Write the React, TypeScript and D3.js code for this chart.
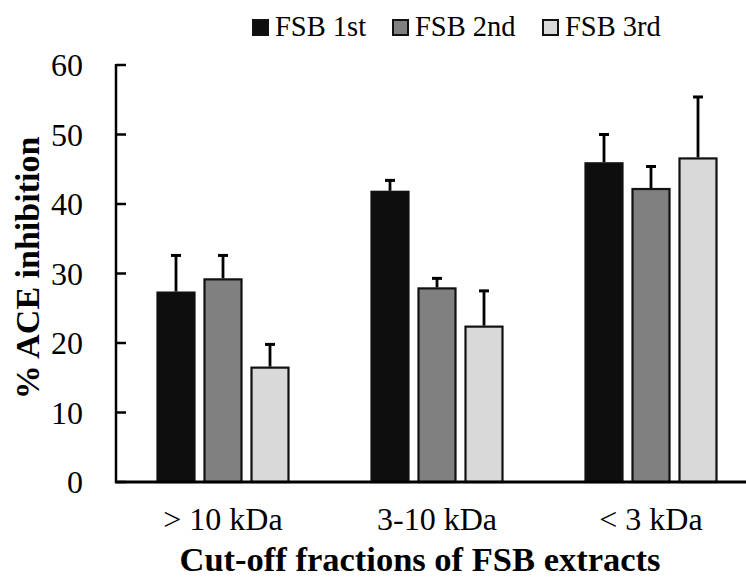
import React from "react";
import * as d3 from "d3";

// Cut-off fractions (x categories)
const categories = ["> 10 kDa", "3-10 kDa", "< 3 kDa"];
// Extract batches (series)
const seriesNames = ["FSB 1st", "FSB 2nd", "FSB 3rd"];
// Mean % ACE inhibition per series, per category
const fsb1st = [27.4, 41.9, 46.0];
const fsb2nd = [29.3, 28.0, 42.3];
const fsb3rd = [16.6, 22.5, 46.7];
// Standard deviations (upper error bars)
const fsb1stErr = [5.2, 1.5, 4.0];
const fsb2ndErr = [3.3, 1.3, 3.1];
const fsb3rdErr = [3.2, 5.0, 8.7];
const yTicks = [0, 10, 20, 30, 40, 50, 60];

const seriesValues = [fsb1st, fsb2nd, fsb3rd];
const seriesErrors = [fsb1stErr, fsb2ndErr, fsb3rdErr];
const fills = ["#0e0e0e", "#808080", "#d9d9d9"];

const W = 746;
const H = 579;
const FONT = '"Liberation Serif", "DejaVu Serif", serif';

export default function App() {
  const left = 116;
  const right = 758;
  const top = 65;
  const bottom = 482;

  const y = d3.scaleLinear().domain([0, 60]).range([bottom, top]);
  const x0 = d3.scaleBand<string>().domain(categories).range([left, right]).padding(0);
  const step = x0.bandwidth();
  const x1 = d3
    .scaleBand<string>()
    .domain(seriesNames)
    .range([40.5, step - 40.5])
    .paddingInner(8 / 47)
    .paddingOuter(0);
  const bw = x1.bandwidth();

  const legendX = [252, 392, 542];
  const txt = { fontFamily: FONT };

  return (
    <svg
      width={W}
      height={H}
      style={{ position: "absolute", left: 0, top: 0, background: "#fff", fontFamily: FONT }}
    >
      {/* legend */}
      {seriesNames.map((s, i) => (
        <g key={s}>
          <rect
            x={legendX[i] + 1}
            y={20}
            width={15}
            height={15}
            fill={fills[i]}
            stroke="#111"
            strokeWidth={2}
          />
          <text x={legendX[i] + 23} y={36} fontSize={28.5} fill="#000" style={txt}>
            {s}
          </text>
        </g>
      ))}

      {/* bars */}
      {categories.map((c, ci) => (
        <g key={c} transform={`translate(${x0(c)},0)`}>
          {seriesNames.map((s, si) => {
            const v = seriesValues[si][ci];
            const e = seriesErrors[si][ci];
            const bx = x1(s)!;
            const cx = bx + bw / 2;
            return (
              <g key={s}>
                <line x1={cx} x2={cx} y1={y(v)} y2={y(v + e)} stroke="#000" strokeWidth={2.8} />
                <line x1={cx - 5} x2={cx + 5} y1={y(v + e)} y2={y(v + e)} stroke="#000" strokeWidth={3} />
                <rect
                  x={bx + 1}
                  y={y(v) + 1}
                  width={bw - 2}
                  height={y(0) - y(v) - 1}
                  fill={fills[si]}
                  stroke="#111"
                  strokeWidth={2.2}
                />
              </g>
            );
          })}
        </g>
      ))}

      {/* y axis */}
      <line x1={left} x2={left} y1={top - 1} y2={bottom + 1} stroke="#000" strokeWidth={2.5} />
      {yTicks.map((t) => (
        <g key={t}>
          <line x1={left} x2={left + 10} y1={y(t)} y2={y(t)} stroke="#000" strokeWidth={2.5} />
          <text x={83} y={y(t) + 11} fontSize={32} textAnchor="end" fill="#000" style={txt}>
            {t}
          </text>
        </g>
      ))}

      {/* x axis */}
      <line x1={left - 1} x2={right} y1={bottom} y2={bottom} stroke="#000" strokeWidth={2.8} />
      {categories.map((c) => (
        <text
          key={c}
          x={x0(c)! + step / 2}
          y={530}
          fontSize={32}
          textAnchor="middle"
          fill="#000"
          style={txt}
        >
          {c}
        </text>
      ))}

      {/* axis titles */}
      <text x={420} y={571} fontSize={34.5} fontWeight="bold" textAnchor="middle" fill="#000" style={txt}>
        Cut-off fractions of FSB extracts
      </text>
      <text
        transform="translate(39,268) rotate(-90)"
        fontSize={34}
        fontWeight="bold"
        textAnchor="middle"
        fill="#000"
        style={txt}
      >
        % ACE inhibition
      </text>
    </svg>
  );
}
